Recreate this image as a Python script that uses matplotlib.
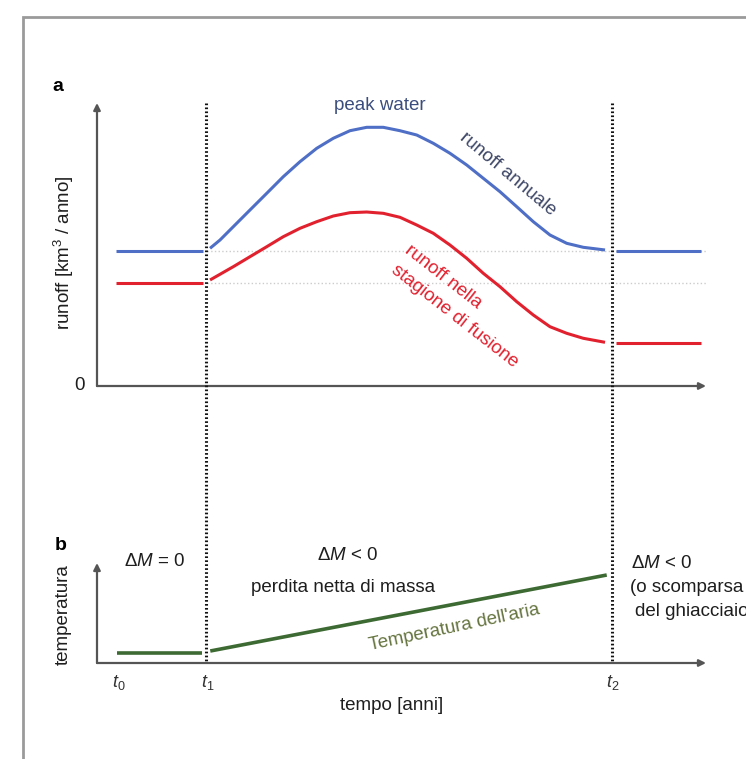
import matplotlib.pyplot as plt
from matplotlib.patches import Rectangle
from matplotlib.lines import Line2D
import matplotlib.transforms as mtransforms

plt.rcParams['font.family'] = ['Liberation Sans', 'DejaVu Sans']
plt.rcParams['mathtext.fontset'] = 'custom'
plt.rcParams['mathtext.rm'] = 'Liberation Sans'
plt.rcParams['mathtext.it'] = 'Liberation Sans:italic'

# --- dati (unità schematiche: tempo 0-100, runoff 0-100, temperatura 0-100) ---
t0, t1, t2 = 3.6, 18.1, 84.6
tick_labels = [r'$t_0$', r'$t_1$', r'$t_2$']

# runoff annuale (blu)
blue_left_x = [3.1, 17.4]
blue_left_y = [47.7, 47.7]
blue_x = [18.56, 20.20, 22.38, 25.12, 27.87, 30.59, 33.33, 36.08, 38.80, 41.54, 44.29, 47.01, 49.75,
          52.50, 55.22, 57.96, 60.71, 63.43, 66.17, 68.92, 71.64, 74.38, 77.13, 79.85, 83.42]
blue_y = [48.66, 51.59, 56.29, 62.19, 68.09, 73.96, 79.26, 83.99, 87.53, 90.21, 91.41, 91.41, 90.21,
          88.69, 85.76, 82.23, 78.09, 73.39, 68.66, 63.36, 58.06, 53.36, 50.42, 49.01, 48.06]
blue_right_x = [85.2, 99.2]
blue_right_y = [47.7, 47.7]

# runoff nella stagione di fusione (rosso)
red_left_x = [3.1, 17.4]
red_left_y = [36.4, 36.4]
red_x = [18.56, 22.38, 25.12, 27.87, 30.59, 33.33, 36.08, 38.80, 41.54, 44.29, 47.01, 49.75, 52.50,
         55.22, 57.96, 60.71, 63.43, 66.17, 68.92, 71.64, 74.38, 77.13, 79.85, 83.42]
red_y = [37.46, 42.16, 45.69, 49.22, 52.76, 55.72, 58.06, 60.07, 61.24, 61.48, 61.02, 59.61, 56.89,
         53.96, 49.82, 45.12, 39.82, 35.09, 29.79, 25.09, 20.95, 18.62, 16.86, 15.44]
red_right_x = [85.2, 99.2]
red_right_y = [15.2, 15.2]

# temperatura dell'aria (verde)
green_left_x = [3.3, 17.3]
green_left_y = [10, 10]
green_x = [18.6, 83.7]
green_y = [12, 88]

BLUE = '#4f6fc6'
RED = '#e2212f'
GREEN = '#3d6a33'
AXC = '#555555'
TXT = '#1e1e1e'

fig = plt.figure(figsize=(7.46, 7.59), dpi=100)
W, H = 746, 759

# cornice grigia
fig.patches.append(Rectangle((23 / W, -0.1), 2, 1 - 17 / H + 0.1, transform=fig.transFigure,
                             fill=False, edgecolor='#9a9a9a', lw=2))

ax_a = fig.add_axes([97 / W, 1 - 386 / H, 609 / W, 283 / H])
ax_b = fig.add_axes([97 / W, 1 - 663 / H, 609 / W, 100 / H])

for ax in (ax_a, ax_b):
    ax.set_xlim(0, 100)
    ax.set_ylim(0, 100)
    ax.axis('off')
    ax.annotate('', xy=(0, 1), xytext=(0, 0), xycoords='axes fraction',
                arrowprops=dict(arrowstyle='-|>', color=AXC, lw=1.6, mutation_scale=10,
                                shrinkA=0, shrinkB=0))
    ax.annotate('', xy=(1, 0), xytext=(0, 0), xycoords='axes fraction',
                arrowprops=dict(arrowstyle='-|>', color=AXC, lw=1.6, mutation_scale=10,
                                shrinkA=0, shrinkB=0))

# pannello a
ax_a.plot([t1, 100], [blue_left_y[0]] * 2, color='#cccccc', lw=1, ls=':')
ax_a.plot([t1, 100], [red_left_y[0]] * 2, color='#cccccc', lw=1, ls=':')
for xs, ys, c in [(blue_left_x, blue_left_y, BLUE), (blue_x, blue_y, BLUE), (blue_right_x, blue_right_y, BLUE),
                  (red_left_x, red_left_y, RED), (red_x, red_y, RED), (red_right_x, red_right_y, RED)]:
    ax_a.plot(xs, ys, color=c, lw=2.2, solid_capstyle='butt', solid_joinstyle='round', clip_on=False)

ax_a.text(46.5, 99, 'peak water', color='#3b4d7e', fontsize=13.5, ha='center', va='center')
ax_a.text(67.5, 75, 'runoff annuale', color='#3d4666', fontsize=13.5, ha='center', va='center',
          rotation=-40, rotation_mode='anchor')
ax_a.text(56.8, 38.5, 'runoff nella', color=RED, fontsize=13.5, ha='center', va='center',
          rotation=-38, rotation_mode='anchor')
ax_a.text(58.8, 24.5, 'stagione di fusione', color=RED, fontsize=13.5, ha='center', va='center',
          rotation=-38, rotation_mode='anchor')
ax_a.text(-2, 0, '0', fontsize=13.5, ha='right', va='center', color=TXT)
ax_a.text(-6.4, 106, 'a', fontsize=14, fontweight='bold', ha='center', va='center')
ax_a.text(-5.4, 47, 'runoff [km$^3$ / anno]', fontsize=13.5, rotation=90, ha='center', va='center',
          color=TXT)

# pannello b
ax_b.plot(green_left_x, green_left_y, color=GREEN, lw=2.6, solid_capstyle='butt', clip_on=False)
ax_b.plot(green_x, green_y, color=GREEN, lw=2.6, solid_capstyle='butt', clip_on=False)
ax_b.text(58.7, 35, "Temperatura dell'aria", color='#65743f', fontsize=13.5, ha='center', va='center',
          rotation=12, rotation_mode='anchor')
ax_b.text(9.5, 101, r'$\Delta M$ = 0', fontsize=13.5, ha='center', va='center', color=TXT)
ax_b.text(41.2, 107, r'$\Delta M$ < 0', fontsize=13.5, ha='center', va='center', color=TXT)
ax_b.text(40.4, 76, 'perdita netta di massa', fontsize=13.5, ha='center', va='center', color=TXT)
ax_b.text(87.7, 100, r'$\Delta M$ < 0', fontsize=13.5, ha='left', va='center', color=TXT)
ax_b.text(87.6, 76, '(o scomparsa', fontsize=13.5, ha='left', va='center', color=TXT)
ax_b.text(88.3, 51, 'del ghiacciaio)', fontsize=13.5, ha='left', va='center', color=TXT)
ax_b.text(-6.0, 118, 'b', fontsize=14, fontweight='bold', ha='center', va='center')
ax_b.text(-5.5, 48, 'temperatura', fontsize=13.5, rotation=90, ha='center', va='center', color=TXT)
for tx, lab in zip([t0, t1, t2], tick_labels):
    ax_b.text(tx, -20, lab, fontsize=13, ha='center', va='center', color='#333')
ax_b.text(48.3, -43, 'tempo [anni]', fontsize=13.5, ha='center', va='center', color=TXT)

# linee verticali punteggiate t1, t2 attraverso i due pannelli
trans = mtransforms.blended_transform_factory(ax_a.transData, fig.transFigure)
for tx in (17.9, t2):
    fig.add_artist(Line2D([tx, tx], [1 - 103 / H, 1 - 663 / H], transform=trans, color='#111',
                          lw=2.2, dashes=(0.55, 0.75), dash_capstyle='butt'))

fig.savefig('out.png', dpi=100)
